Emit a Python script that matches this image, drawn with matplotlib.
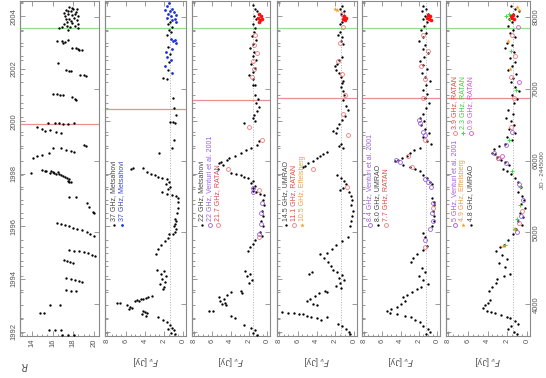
"""Multi-band light curves, drawn rotated (time runs upwards)"""
import numpy as np
import matplotlib.pyplot as plt
from matplotlib.ticker import MultipleLocator, FixedLocator

plt.rcParams['font.family'] = ['Liberation Sans', 'DejaVu Sans']

# ---- data: (decimal year, value) -------------------------------------------
r_mag = [
    (2004.35, 17.6), (2004.3, 18.0), (2004.25, 17.3), (2004.2, 17.8), (2004.15, 18.3),
    (2004.1, 17.5), (2004.05, 17.9), (2004.0, 17.2), (2003.95, 18.1), (2003.9, 17.6),
    (2003.85, 18.4), (2003.8, 17.4), (2003.75, 17.9), (2003.7, 17.1), (2003.65, 18.2),
    (2003.6, 17.7), (2003.55, 18.5), (2003.5, 17.5), (2003.57, 16.6), (2003.58, 16.9),
    (2004.32, 17.9), (2004.22, 17.5), (2004.12, 17.1), (2004.02, 18.5), (2003.92, 17.3),
    (2003.82, 17.8), (2003.72, 18.5), (2003.62, 17.4), (2004.28, 18.4), (2004.08, 18.2),
    (2003.08, 16.4), (2003.05, 16.9), (2003.02, 17.2), (2003.1, 17.5), (2002.98, 17.0),
    (2002.8, 17.9), (2002.78, 18.3), (2002.74, 18.6), (2002.72, 18.9), (2002.76, 18.5),
    (2002.21, 16.5), (2001.95, 17.3), (2001.94, 17.6), (2001.93, 17.8),
    (2001.76, 18.7), (2001.75, 19.0), (2001.74, 19.2),
    (2001.05, 16.0), (2001.03, 16.4), (2001.02, 16.7), (2001.0, 17.0),
    (2000.92, 17.9), (2000.85, 18.2), (2000.8, 18.3),
    (1999.95, 15.6), (1999.94, 16.2), (1999.93, 16.6), (1999.92, 17.0), (1999.91, 17.5),
    (1999.93, 18.1), (1999.78, 14.5), (1999.72, 15.0), (1999.67, 15.8), (1999.62, 15.3),
    (1999.58, 16.3), (1999.55, 16.8), (1999.09, 19.0), (1999.07, 19.2),
    (1999.0, 16.0), (1998.97, 16.8), (1998.93, 17.3), (1998.88, 17.8), (1998.85, 18.1),
    (1998.78, 15.7), (1998.72, 15.0), (1998.67, 14.5), (1998.62, 14.1),
    (1998.15, 15.0), (1998.1, 15.4), (1998.05, 15.8), (1998.0, 16.3), (1997.95, 16.8),
    (1997.88, 17.2), (1997.8, 17.6), (1997.7, 17.8), (1998.12, 15.9), (1998.07, 16.5),
    (1998.13, 15.3), (1998.08, 16.0), (1998.03, 16.1), (1997.98, 16.6), (1997.92, 17.0),
    (1997.85, 17.4), (1997.75, 17.5), (1997.68, 17.6),
    (1998.02, 13.9), (1997.11, 17.6), (1997.12, 18.3),
    (1996.9, 19.3), (1996.75, 19.5), (1996.55, 19.9), (1996.53, 20.0),
    (1996.12, 16.4), (1996.08, 16.8), (1996.05, 17.2), (1996.0, 17.6), (1995.95, 18.0),
    (1995.9, 18.4), (1995.85, 18.9), (1995.78, 19.3), (1995.72, 19.6), (1995.65, 20.0),
    (1995.1, 17.6), (1995.08, 18.1), (1995.05, 18.6), (1995.02, 19.0), (1994.98, 19.4),
    (1994.93, 19.8), (1994.88, 20.1),
    (1994.72, 17.1), (1994.7, 17.4), (1994.66, 17.7), (1994.62, 18.0),
    (1994.03, 17.3), (1994.0, 17.8), (1993.97, 18.2), (1993.92, 18.6), (1993.88, 18.9),
    (1993.57, 17.3), (1993.56, 17.8), (1993.55, 18.3), (1993.0, 15.8), (1993.01, 16.7),
    (1992.7, 14.8), (1992.69, 15.2), (1992.06, 15.7), (1992.05, 16.2), (1992.04, 16.8),
    (1991.88, 16.9), (1991.87, 17.5), (1991.88, 18.1),
]

f37_black = [
    (2003.8, 1.4), (2003.7, 1.6), (2003.6, 1.2), (2003.5, 1.5), (2003.4, 1.3), (2003.3, 1.7),
    (2002.85, 1.6), (2002.55, 1.4), (2002.25, 1.5), (2001.95, 1.6),
    (2001.65, 2.1), (2001.63, 1.7), (2000.9, 1.1), (2000.5, 1.0), (2000.23, 0.8),
    (1999.96, 1.4), (1999.97, 1.1), (1999.95, 0.9), (1999.28, 1.0), (1999.0, 1.2),
    (1998.78, 2.5), (1998.2, 5.5), (1998.21, 5.3), (1998.24, 4.2),
    (1998.06, 3.8), (1998.0, 3.4), (1997.95, 3.0), (1997.9, 2.6), (1997.86, 2.2),
    (1997.8, 1.7), (1997.7, 1.5), (1997.6, 1.8), (1997.5, 1.4), (1997.42, 1.6),
    (1997.3, 2.2), (1997.25, 1.7), (1997.2, 1.2), (1997.15, 0.8), (1997.1, 0.5),
    (1996.95, 0.55), (1996.7, 0.55), (1996.5, 0.6),
    (1996.3, 0.9), (1996.2, 0.8), (1996.1, 0.85), (1996.0, 1.0), (1995.9, 0.8),
    (1995.8, 0.9), (1995.7, 1.1), (1995.7, 1.5), (1995.55, 1.6),
    (1995.45, 1.9), (1995.3, 2.3), (1995.15, 2.6), (1994.95, 2.9),
    (1994.35, 2.7), (1994.3, 2.0), (1994.2, 2.3), (1994.1, 1.8), (1994.0, 2.2),
    (1993.9, 1.9), (1993.8, 2.4), (1993.7, 2.0), (1993.6, 2.1),
    (1993.35, 3.3), (1993.3, 3.7), (1993.28, 3.9), (1993.25, 4.2),
    (1993.22, 4.4), (1993.2, 4.8), (1993.18, 5.0), (1993.15, 4.6),
    (1993.1, 6.9), (1993.07, 6.6), (1993.0, 5.9), (1992.95, 5.6), (1992.9, 5.4), (1992.85, 5.7),
    (1992.8, 4.2), (1992.75, 4.0), (1992.7, 3.8), (1992.65, 4.3), (1992.6, 3.9),
    (1992.55, 2.6), (1992.45, 2.1), (1992.35, 1.7), (1992.25, 1.4), (1992.15, 1.2),
    (1992.1, 1.6), (1992.05, 1.0), (1991.95, 1.3), (1991.9, 0.9),
]
f37_blue = [
    (2004.5, 1.5), (2004.4, 1.7), (2004.3, 1.2), (2004.25, 1.9), (2004.2, 1.4),
    (2004.15, 1.0), (2004.1, 1.6), (2004.05, 0.8), (2004.0, 1.3), (2003.95, 1.7),
    (2003.9, 0.9), (2003.85, 1.2), (2003.8, 0.7), (2003.15, 1.3), (2003.1, 0.9),
    (2003.05, 1.1), (2003.0, 0.8), (2002.75, 1.2), (2002.65, 1.8), (2002.45, 1.7),
    (2002.35, 1.3), (2002.1, 1.9), (2001.85, 1.2),
]

f22_black = [
    (2004.45, 1.5), (2004.3, 1.3), (2004.2, 1.1), (2004.0, 1.4), (2003.9, 1.2),
    (2003.7, 1.5), (2003.55, 1.3), (2003.4, 1.4), (2003.25, 1.7), (2003.1, 1.2),
    (2002.95, 1.5), (2002.8, 1.9), (2002.65, 1.4), (2002.5, 1.6), (2002.35, 1.2),
    (2002.2, 1.8), (2002.05, 1.3), (2001.9, 1.6), (2001.75, 2.0), (2001.6, 1.5),
    (2001.37, 1.5), (2001.4, 1.3), (2001.0, 1.3), (2000.85, 1.0), (2000.7, 1.2),
    (2000.55, 0.9), (2000.4, 1.1), (2000.25, 1.4), (2000.15, 1.6), (2000.0, 1.3),
    (1999.95, 2.5), (1999.25, 0.9), (1999.1, 1.1), (1999.0, 1.8), (1998.9, 2.3),
    (1998.8, 2.9), (1998.7, 3.5), (1998.6, 4.2), (1998.55, 4.4), (1998.45, 5.0),
    (1998.4, 5.3), (1998.35, 4.8), (1998.2, 5.4), (1998.05, 3.9), (1998.0, 3.4),
    (1997.95, 2.9), (1997.9, 2.5), (1997.85, 2.1), (1997.75, 1.6), (1997.65, 1.8),
    (1997.55, 1.3), (1997.45, 1.5), (1997.35, 1.6), (1997.3, 1.2), (1997.25, 0.8),
    (1997.2, 0.4), (1997.0, 0.5), (1996.8, 0.4), (1996.6, 0.6), (1996.4, 0.5),
    (1996.2, 0.7), (1996.0, 0.5), (1995.8, 0.8), (1995.65, 0.6), (1995.5, 1.3),
    (1995.35, 1.6), (1995.2, 1.9), (1995.05, 2.1), (1994.3, 2.4), (1994.2, 1.9),
    (1994.1, 2.2), (1993.95, 1.7), (1993.85, 2.0), (1993.55, 2.9), (1993.45, 2.7),
    (1993.5, 3.9), (1993.4, 4.4), (1993.3, 5.3), (1993.25, 4.7), (1993.15, 5.1),
    (1993.1, 4.6), (1993.05, 4.9), (1993.0, 4.5), (1992.8, 6.3), (1992.78, 5.9),
    (1992.6, 4.0), (1992.5, 3.5), (1992.25, 2.5), (1992.15, 1.8), (1992.05, 1.3),
    (1991.95, 1.5), (1991.88, 1.1),
]
f22_venturi = [(1997.45, 1.6), (1997.3, 1.5), (1996.9, 0.6), (1996.5, 0.7), (1996.1, 0.7), (1995.7, 0.9)]
f21_ratan = [
    (2003.3, 1.3), (2002.9, 1.4), (2002.6, 1.1), (2002.3, 1.6), (2002.0, 1.4), (2001.7, 1.7),
    (1999.8, 2.0), (1999.28, 0.6), (1998.2, 4.3), (1997.4, 0.9), (1995.6, 0.9),
]
f21_ratan_new = [(2004.1, 0.9), (2004.0, 0.7), (2003.95, 1.0), (2003.9, 0.6), (2003.85, 0.8), (2003.8, 0.9)]

f14_black = [
    (2004.4, 1.3), (2004.3, 1.5), (2004.2, 1.1), (2004.1, 1.4), (2004.0, 1.2), (2003.9, 1.0),
    (2003.8, 1.3), (2003.7, 1.5), (2003.4, 1.5), (2003.3, 1.7), (2003.2, 1.3), (2003.05, 1.4),
    (2002.95, 1.2), (2002.45, 1.3), (2002.35, 1.6), (2002.2, 1.8), (2002.1, 2.0), (2001.95, 1.9),
    (2001.85, 1.6), (2001.7, 1.4), (2001.55, 1.2), (2001.45, 1.3), (2001.3, 1.4), (2001.15, 1.2),
    (2001.0, 1.1), (2000.8, 1.2), (2000.6, 0.9), (2000.45, 0.7), (2000.2, 1.0), (2000.05, 1.3),
    (1999.9, 1.6), (1999.75, 1.8), (1999.65, 2.2), (1999.55, 1.9), (1999.15, 1.4), (1999.05, 1.6),
    (1998.98, 1.2), (1998.85, 2.9), (1998.75, 3.3), (1998.7, 3.6), (1998.6, 3.9), (1998.5, 4.4),
    (1998.4, 4.9), (1998.3, 5.2), (1998.25, 5.4), (1997.95, 1.8), (1997.85, 1.4), (1997.75, 1.1),
    (1997.6, 0.9), (1997.45, 1.2), (1997.4, 1.5), (1997.3, 0.6), (1997.15, 0.3), (1997.0, 0.2),
    (1996.8, 0.3), (1996.6, 0.15), (1996.4, 0.25), (1996.2, 0.3), (1996.0, 0.4), (1995.6, 0.7),
    (1995.45, 1.3), (1995.3, 1.9), (1995.15, 2.4), (1995.0, 2.9), (1994.95, 3.6), (1994.8, 3.2),
    (1994.65, 2.8), (1994.5, 2.5), (1994.35, 2.2), (1994.25, 4.5), (1994.2, 4.8), (1994.25, 1.8),
    (1994.15, 1.3), (1994.05, 1.6), (1993.95, 1.1), (1993.85, 1.5), (1993.75, 1.9), (1993.65, 1.4),
    (1993.55, 3.1), (1993.52, 2.9), (1993.45, 3.7), (1993.35, 4.2), (1993.25, 4.7), (1993.15, 5.0),
    (1993.05, 4.4), (1993.0, 3.9), (1992.75, 7.7), (1992.72, 7.0), (1992.7, 6.4), (1992.68, 5.9),
    (1992.65, 5.4), (1992.6, 5.0), (1992.55, 4.6), (1992.5, 4.0), (1992.45, 3.5), (1992.55, 2.9),
    (1992.3, 1.7), (1992.2, 1.3), (1992.1, 0.9), (1992.0, 0.6), (1991.9, 0.4),
]
f11_ratan = [
    (2004.1, 1.3), (2003.6, 1.2), (2003.0, 1.5), (2002.3, 1.7), (2001.8, 1.3), (2001.0, 1.0),
    (2000.3, 1.2), (1999.5, 0.7), (1998.2, 4.4), (1997.5, 0.8),
]
f11_ratan_new = [(2004.0, 1.1), (2003.95, 0.9), (2003.9, 1.2), (2003.85, 1.0)]
f10_effelsberg = [(2004.3, 2.0), (2004.25, 1.8)]

f8_black = [
    (2004.4, 1.5), (2004.3, 1.2), (2004.2, 1.7), (2004.1, 1.0), (2004.0, 1.3), (2003.9, 1.6),
    (2003.8, 1.1), (2003.65, 1.4), (2003.5, 1.8), (2003.35, 1.2), (2003.2, 1.5), (2003.05, 2.0),
    (2002.9, 1.3), (2002.75, 1.6), (2002.6, 1.0), (2002.45, 1.4), (2002.3, 1.9), (2002.15, 1.5),
    (2002.0, 1.1), (2001.85, 1.7), (2001.7, 1.3), (2001.55, 0.8), (2001.4, 1.2), (2001.2, 1.5),
    (2001.05, 1.1), (2000.9, 1.3), (2000.7, 0.9), (2000.5, 1.2), (2000.3, 1.6), (2000.15, 1.9),
    (2000.0, 1.4), (1999.85, 1.8), (1999.7, 1.3), (1999.55, 0.9), (1999.4, 1.5), (1999.25, 1.1),
    (1999.15, 0.7), (1999.0, 1.9), (1998.9, 2.5), (1998.8, 3.0), (1998.7, 3.3), (1998.62, 3.8),
    (1998.55, 4.3), (1998.5, 4.6), (1998.35, 3.7), (1998.28, 3.0), (1998.2, 2.4), (1998.12, 1.9),
    (1997.95, 1.5), (1997.85, 1.1), (1997.7, 0.8), (1997.6, 0.6), (1997.1, 0.6), (1996.95, 0.4),
    (1996.8, 0.3), (1996.6, 0.5), (1996.4, 0.3), (1996.2, 0.4), (1996.0, 0.6), (1995.75, 1.6),
    (1995.6, 1.3), (1995.25, 1.1), (1995.1, 1.6), (1994.95, 2.2), (1994.8, 2.6), (1994.65, 2.9),
    (1994.4, 1.7), (1994.25, 1.3), (1994.1, 2.0), (1993.95, 1.5), (1993.8, 1.0), (1993.7, 1.8),
    (1993.6, 2.2), (1993.5, 2.8), (1993.4, 3.3), (1993.3, 3.7), (1993.15, 3.5), (1993.05, 4.0),
    (1992.95, 4.4), (1992.85, 5.0), (1992.78, 5.5), (1992.72, 5.2), (1992.65, 4.4), (1992.6, 3.5),
    (1992.55, 2.9), (1992.45, 2.4), (1992.35, 1.9), (1992.2, 1.5), (1992.1, 1.0), (1992.0, 0.8),
    (1991.9, 1.2),
]
f8_venturi = [
    (2000.05, 2.0), (1999.95, 1.9), (1999.6, 1.6), (1999.5, 1.3), (1998.55, 4.5), (1998.45, 4.1),
    (1997.8, 1.3), (1997.7, 1.0), (1997.5, 0.7), (1996.9, 0.5), (1996.5, 0.6), (1996.2, 0.5),
    (1995.9, 0.8), (1995.5, 1.3),
]
f7_ratan = [
    (2003.3, 1.6), (2002.7, 1.0), (2002.1, 1.8), (2001.6, 1.3), (2000.9, 1.5), (1999.3, 1.3),
    (1998.7, 3.2), (1998.25, 2.7), (1996.7, 0.5), (1995.2, 1.3),
]
f7_ratan_new = [(2004.05, 1.0), (2004.0, 0.8), (2003.95, 1.1), (2003.9, 0.9), (2003.85, 0.7)]

f48_black = [
    (2004.4, 1.6), (2004.3, 1.2), (2004.2, 0.8), (2004.1, 1.4), (2004.0, 1.0), (2003.9, 1.8),
    (2003.8, 1.5), (2003.65, 1.9), (2003.5, 1.4), (2003.35, 1.7), (2003.2, 1.2), (2003.0, 2.0),
    (2002.9, 1.5), (2002.8, 2.2), (2002.65, 1.3), (2002.4, 1.7), (2002.25, 1.2), (2002.1, 1.5),
    (2001.95, 1.9), (2001.8, 1.1), (2001.65, 1.4), (2001.5, 1.6), (2001.3, 1.2), (2001.15, 0.8),
    (2001.0, 1.5), (2000.85, 1.0), (2000.7, 1.3), (2000.45, 1.9), (2000.3, 1.4), (2000.15, 2.1),
    (2000.0, 1.6), (1999.85, 1.3), (1999.7, 1.8), (1999.55, 1.2), (1999.4, 2.0), (1999.3, 1.5),
    (1999.15, 2.2), (1999.05, 2.8), (1998.95, 3.3), (1998.8, 3.5), (1998.75, 3.2), (1998.65, 3.0),
    (1998.55, 2.6), (1998.45, 2.2), (1998.35, 1.8), (1998.2, 2.4), (1998.1, 2.0), (1998.0, 1.6),
    (1997.85, 1.2), (1997.7, 0.9), (1997.5, 0.6), (1997.3, 0.9), (1997.15, 0.5), (1997.0, 0.3),
    (1996.85, 0.6), (1996.7, 0.2), (1996.5, 0.7), (1996.35, 0.4), (1996.2, 0.9), (1996.05, 0.5),
    (1995.9, 1.1), (1995.7, 1.4), (1995.5, 1.9), (1995.3, 2.3), (1995.2, 2.7), (1995.05, 3.1),
    (1994.9, 2.5), (1994.75, 2.0), (1994.6, 2.8), (1994.45, 2.2), (1994.2, 1.7), (1994.1, 2.3),
    (1994.0, 3.0), (1993.85, 3.1), (1993.7, 3.5), (1993.55, 3.8), (1993.2, 3.7), (1993.1, 3.9),
    (1993.0, 4.3), (1992.9, 4.5), (1992.8, 4.1), (1992.75, 3.6), (1992.7, 3.2), (1992.62, 2.6),
    (1992.55, 2.0), (1992.5, 1.7), (1992.4, 1.2), (1992.3, 0.9), (1992.2, 1.6), (1992.1, 1.9),
    (1992.0, 1.3), (1991.9, 1.0),
]
f5_venturi = [(1999.6, 1.5), (1999.1, 2.1), (1998.8, 3.3), (1998.6, 2.9), (1998.4, 2.1),
              (1997.6, 0.8), (1997.0, 0.4), (1996.4, 0.6), (1995.8, 1.0)]
f49_effelsberg = [(2004.35, 1.0), (2004.25, 0.8), (2003.05, 1.9), (2002.0, 1.7), (1995.9, 1.3),
                  (1995.25, 2.4)]
f39_ratan = [(2003.3, 1.5), (2002.5, 1.2), (2001.7, 1.6), (2000.9, 1.3), (1999.8, 1.6),
             (1998.6, 2.9), (1996.6, 0.5), (1996.15, 0.8)]
f39_ratan_new = [(2004.05, 1.4), (2004.0, 1.6), (2003.95, 1.5), (2003.9, 1.3)]
f23_ratan = [(2004.1, 1.8), (2004.0, 2.1), (2003.9, 1.7), (2002.7, 1.6), (2001.2, 1.1),
             (1999.3, 1.8), (1998.1, 1.5), (1997.5, 0.7), (1996.8, 0.7), (1996.3, 1.0),
             (1995.9, 1.2), (1995.3, 2.2)]
f09_ratan = [(2003.6, 0.9), (2001.5, 0.8), (1998.7, 2.5)]

# vertical event markers (years), one red line per panel + common green line
red_line_yr = [1999.92, 2000.49, 2000.80, 2000.91, 2000.91, 2000.91]
green_line_yr = 2003.54
quiet_level = [None, 1.4, 1.5, 1.4, 1.2, 1.4]
year_ticks = [1992, 1994, 1996, 1998, 2000, 2002, 2004]


def yr2jd(y):
    return 6544.5 + (np.asarray(y, dtype=float) - 2000.0) * 365.25


def jd2yr(t):
    return 2000.0 + (np.asarray(t, dtype=float) - 6544.5) / 365.25


BLACK = dict(marker='o', ls='none', color='k', ms=1.7, mew=0)
BLUE = dict(marker='o', ls='none', color='#1c2fd6', ms=2.0, mew=0)
VENT = dict(marker='o', ls='none', mfc='none', mec='#9a5de0', ms=2.8, mew=0.6)
RATAN = dict(marker='o', ls='none', mfc='none', mec='#f07a7a', ms=2.8, mew=0.6)
RED = dict(marker='o', ls='none', color='#ff1010', ms=2.6, mew=0)
ORNG = dict(marker='*', ls='none', color='#f0a030', ms=3.5, mew=0)
GREEN = dict(marker='+', ls='none', color='#40dd40', ms=3.0, mew=0.7)
MAG = dict(marker='o', ls='none', mfc='none', mec='#d84fd8', ms=2.8, mew=0.6)

panels = [
    [(r_mag, BLACK)],
    [(f37_black, BLACK), (f37_blue, BLUE)],
    [(f22_black, BLACK), (f22_venturi, VENT), (f21_ratan, RATAN), (f21_ratan_new, RED)],
    [(f14_black, BLACK), (f11_ratan, RATAN), (f11_ratan_new, RED), (f10_effelsberg, ORNG)],
    [(f8_black, BLACK), (f8_venturi, VENT), (f7_ratan, RATAN), (f7_ratan_new, RED)],
    [(f48_black, BLACK), (f5_venturi, VENT), (f49_effelsberg, ORNG), (f23_ratan, GREEN),
     (f09_ratan, MAG), (f39_ratan, RATAN), (f39_ratan_new, RED)],
]

# legend entries: (style, text colour, text, x offset px, y px of marker)
legends = [
    [],
    [(BLACK, '#444444', '37 GHz, Metsahovi', 9, 225), (BLUE, '#3344cc', '37 GHz, Metsahovi', 17, 225)],
    [(BLACK, '#444444', '22 GHz, Metsahovi', 10, 225),
     (VENT, '#9a5de0', '22 GHz, Venturi et al. 2001', 18, 225),
     (RATAN, '#e04848', '21.7 GHz, RATAN', 26, 225)],
    [(BLACK, '#444444', '14.5 GHz, UMRAO', 9, 225),
     (RATAN, '#e04848', '11.1 GHz, RATAN', 17, 225),
     (ORNG, '#e8a040', '10.5 GHz, Effelsberg', 25, 225)],
    [(VENT, '#9a5de0', '8.4 GHz, Venturi et al. 2001', 8, 225),
     (BLACK, '#444444', '8.0 GHz, UMRAO', 16, 225),
     (RATAN, '#e04848', '7.7 GHz, RATAN', 24, 225)],
    [(VENT, '#9a5de0', '5 GHz, Venturi et al. 2001', 9, 225),
     (ORNG, '#e8a040', '4.9 GHz, Effelsberg', 17, 225),
     (BLACK, '#444444', '4.8 GHz, UMRAO', 25, 225),
     (RATAN, '#e04848', '3.9 GHz, RATAN', 9, 133),
     (GREEN, '#40cc40', '2.3 GHz, RATAN', 17, 133),
     (MAG, '#d84fd8', '0.9 GHz, RATAN', 25, 133)],
]

W, H = 546, 378
fig = plt.figure(figsize=(W / 100, H / 100), dpi=100)
lefts = [20, 105, 192, 277, 362, 446]
widths = [79, 81, 78, 80, 78, 84]
y_bot, y_top = 336, 1
GREY = '#8a8a8a'
TXT = '#555555'

for i, (lx, wx) in enumerate(zip(lefts, widths)):
    ax = fig.add_axes([lx / W, 1 - y_bot / H, wx / W, (y_bot - y_top) / H])
    for sp in ax.spines.values():
        sp.set_color(GREY)
        sp.set_linewidth(0.8)

    ax.axhline(yr2jd(red_line_yr[i]), color='#e89090', lw=0.9, zorder=1)
    ax.axhline(yr2jd(green_line_yr), color='#90e090', lw=0.9, zorder=1)
    if quiet_level[i] is not None:
        ax.axvline(quiet_level[i], color='#b0b0b0', ls=':', lw=0.7, zorder=1)

    for data, style in panels[i]:
        yrs, vals = np.array(data).T
        ax.plot(vals, yr2jd(yrs), zorder=3, **style)

    ax.set_ylim(3560, 8220)
    if i == 0:
        ax.set_xlim(12.85, 20.5)
    else:
        ax.set_xlim(8.2, -0.3)
    ax.xaxis.set_major_locator(MultipleLocator(2))
    ax.xaxis.set_minor_locator(MultipleLocator(0.5))
    ax.yaxis.set_major_locator(FixedLocator([4000, 5000, 6000, 7000, 8000]))
    ax.yaxis.set_minor_locator(MultipleLocator(200))
    ax.tick_params(axis='both', which='both', direction='in', color=GREY,
                   labelcolor=TXT, labelsize=5.5, width=0.6)
    ax.tick_params(axis='both', which='major', length=3.5)
    ax.tick_params(axis='both', which='minor', length=1.8)
    ax.tick_params(axis='x', top=True, bottom=True, labelrotation=90, pad=2)
    ax.tick_params(axis='y', left=False, right=True, labelleft=False,
                   labelright=(i == 5), labelrotation=90, pad=2)
    for lab in ax.get_yticklabels():
        lab.set_va('center')

    sec = ax.secondary_yaxis('left', functions=(jd2yr, yr2jd))
    sec.spines['left'].set_color(GREY)
    sec.yaxis.set_major_locator(FixedLocator(year_ticks))
    sec.yaxis.set_minor_locator(MultipleLocator(0.5))
    sec.tick_params(which='both', direction='in', color=GREY, labelcolor=TXT,
                    labelsize=5.5, labelleft=(i == 0), labelrotation=90, pad=2, width=0.6)
    sec.tick_params(which='major', length=3.5)
    sec.tick_params(which='minor', length=1.8)
    for lab in sec.get_yticklabels():
        lab.set_va('center')

    for style, tcol, text, dx, ypx in legends[i]:
        xf = (lx + dx) / W
        ax.plot([xf], [1 - ypx / H], transform=fig.transFigure, clip_on=False, **style)
        fig.text(xf, 1 - (ypx - 4) / H, text, rotation=90, ha='center', va='bottom',
                 fontsize=5, color=tcol)

    if i == 0:
        fig.text(25 / W, 1 - 366 / H, '$R$', rotation=180, ha='center', va='center',
                 fontsize=7, color=TXT)
    else:
        fig.text((lx + wx / 2) / W, 1 - 361 / H, r'$F_\nu$ [Jy]', rotation=180,
                 ha='center', va='center', fontsize=6.5, color=TXT)

fig.text(543 / W, 1 - 170 / H, 'JD - 2445000', rotation=90, ha='center', va='center',
         fontsize=4.5, color=TXT)

fig.savefig('out.png', dpi=100)
